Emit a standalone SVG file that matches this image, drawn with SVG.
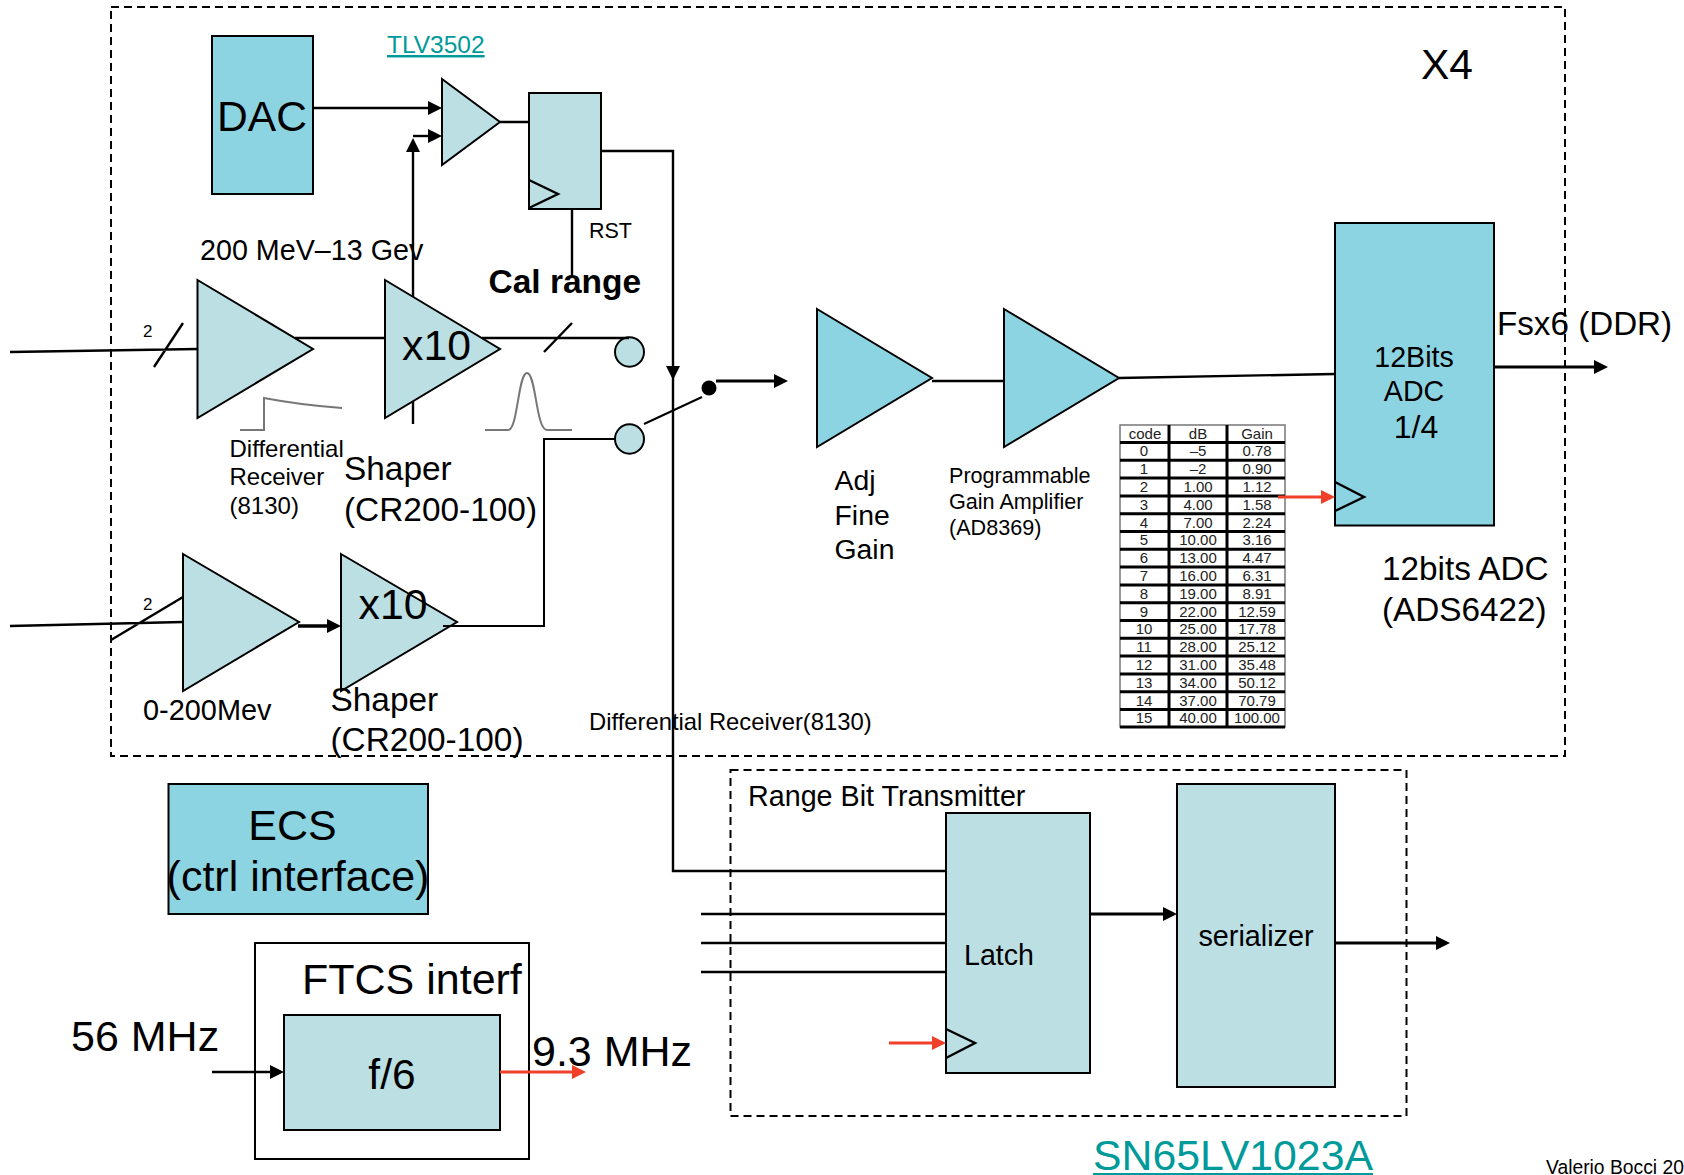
<svg xmlns="http://www.w3.org/2000/svg" width="1684" height="1175" viewBox="0 0 1684 1175">
<style>
text{font-family:"Liberation Sans",Arial,sans-serif;fill:#000}
.lt{fill:#bbdfe3;stroke:#000;stroke-width:2}
.md{fill:#8dd4e3;stroke:#000;stroke-width:2}
.box{fill:none;stroke:#000;stroke-width:2}
.dash{fill:none;stroke:#000;stroke-width:2;stroke-dasharray:8 5}
.w{fill:none;stroke:#000;stroke-width:2.4}
.a{marker-end:url(#ah)}
.r{fill:none;stroke:#f0402a;stroke-width:3;marker-end:url(#rh)}
.p{fill:none;stroke:#777;stroke-width:2}
.link{fill:#009a9a;text-decoration:underline}
.t{font-size:15px;text-anchor:middle;fill:#222}
.tl{stroke:#000;stroke-width:3}
.c{text-anchor:middle}
</style>
<defs>
<marker id="ah" markerUnits="userSpaceOnUse" markerWidth="16" markerHeight="16" refX="8" refY="7" orient="auto"><path d="M0 0L14 7L0 14Z" fill="#000"/></marker>
<marker id="rh" markerUnits="userSpaceOnUse" markerWidth="16" markerHeight="16" refX="8" refY="7" orient="auto"><path d="M0 0L14 7L0 14Z" fill="#f0402a"/></marker>
</defs>
<g id="frame-x4"><rect class="dash" x="111" y="7" width="1454" height="749"/><text x="1421" y="79" font-size="42.5">X4</text></g>
<g id="frame-range"><rect class="dash" x="730.500" y="770" width="676" height="346"/><text x="748" y="806" font-size="28.7">Range Bit Transmitter</text></g>
<g id="gain-table">
<rect x="1120" y="425" width="165" height="302" fill="#fff" stroke="#777" stroke-width="1.5"/>
<path class="tl" d="M1120 442.5H1285M1120 460.3H1285M1120 478.1H1285M1120 495.9H1285M1120 513.7H1285M1120 531.5H1285M1120 549.3H1285M1120 567.1H1285M1120 584.9H1285M1120 602.7H1285M1120 620.5H1285M1120 638.3H1285M1120 656.1H1285M1120 673.9H1285M1120 691.7H1285M1120 709.5H1285M1120 727H1285M1169 425V727M1227 425V727"/>
<text class="t" x="1145" y="439">code</text><text class="t" x="1198" y="439">dB</text><text class="t" x="1257" y="439">Gain</text>
<text class="t" x="1144" y="456.300">0</text><text class="t" x="1198" y="456.300">–5</text><text class="t" x="1257" y="456.300">0.78</text>
<text class="t" x="1144" y="474.100">1</text><text class="t" x="1198" y="474.100">–2</text><text class="t" x="1257" y="474.100">0.90</text>
<text class="t" x="1144" y="491.900">2</text><text class="t" x="1198" y="491.900">1.00</text><text class="t" x="1257" y="491.900">1.12</text>
<text class="t" x="1144" y="509.700">3</text><text class="t" x="1198" y="509.700">4.00</text><text class="t" x="1257" y="509.700">1.58</text>
<text class="t" x="1144" y="527.500">4</text><text class="t" x="1198" y="527.500">7.00</text><text class="t" x="1257" y="527.500">2.24</text>
<text class="t" x="1144" y="545.300">5</text><text class="t" x="1198" y="545.300">10.00</text><text class="t" x="1257" y="545.300">3.16</text>
<text class="t" x="1144" y="563.100">6</text><text class="t" x="1198" y="563.100">13.00</text><text class="t" x="1257" y="563.100">4.47</text>
<text class="t" x="1144" y="580.900">7</text><text class="t" x="1198" y="580.900">16.00</text><text class="t" x="1257" y="580.900">6.31</text>
<text class="t" x="1144" y="598.700">8</text><text class="t" x="1198" y="598.700">19.00</text><text class="t" x="1257" y="598.700">8.91</text>
<text class="t" x="1144" y="616.500">9</text><text class="t" x="1198" y="616.500">22.00</text><text class="t" x="1257" y="616.500">12.59</text>
<text class="t" x="1144" y="634.300">10</text><text class="t" x="1198" y="634.300">25.00</text><text class="t" x="1257" y="634.300">17.78</text>
<text class="t" x="1144" y="652.100">11</text><text class="t" x="1198" y="652.100">28.00</text><text class="t" x="1257" y="652.100">25.12</text>
<text class="t" x="1144" y="669.900">12</text><text class="t" x="1198" y="669.900">31.00</text><text class="t" x="1257" y="669.900">35.48</text>
<text class="t" x="1144" y="687.700">13</text><text class="t" x="1198" y="687.700">34.00</text><text class="t" x="1257" y="687.700">50.12</text>
<text class="t" x="1144" y="705.500">14</text><text class="t" x="1198" y="705.500">37.00</text><text class="t" x="1257" y="705.500">70.79</text>
<text class="t" x="1144" y="723.300">15</text><text class="t" x="1198" y="723.300">40.00</text><text class="t" x="1257" y="723.300">100.00</text>
</g>
<g id="dac"><rect class="md" x="212" y="36" width="101" height="158"/><text x="217" y="131" font-size="42.6">DAC</text></g>
<g id="comparator"><path class="lt" d="M442 79L500 122L442 165Z"/><text class="link" x="387" y="53" font-size="24.5">TLV3502</text></g>
<g id="range-ff"><rect class="lt" x="529" y="93" width="72" height="116"/><path class="w" d="M529 180L558 194L529 208"/><text x="589" y="238" font-size="21.5">RST</text></g>
<g id="rx-high"><path class="lt" d="M197.500 280L313 349L197.500 418Z"/><text x="200" y="260" font-size="28.7">200 MeV–13 Gev</text><text x="143" y="337" font-size="17">2</text><text font-size="24"><tspan x="229.500" y="457">Differential</tspan><tspan x="229.500" y="485">Receiver</tspan><tspan x="229.500" y="514">(8130)</tspan></text><path class="p" d="M240 430H264V398C290 403 315 406 342 408"/></g>
<g id="shaper-high"><path class="lt" d="M385 280L500 349L385 418Z"/><text x="402" y="360" font-size="42.8">x10</text><text font-size="33.4"><tspan x="344" y="480">Shaper</tspan><tspan x="344" y="521">(CR200-100)</tspan></text><text x="488.500" y="293" font-size="33.5" font-weight="bold">Cal range</text><path class="p" d="M485 430H508C518 430 518 373 527 373C536 373 536 430 547 430H572"/></g>
<g id="rx-low"><path class="lt" d="M183 554L299 622L183 691Z"/><text x="143" y="610" font-size="17">2</text><text x="143" y="720" font-size="28.900">0-200Mev</text></g>
<g id="shaper-low"><path class="lt" d="M341 554L457 622L341 691Z"/><text x="358.500" y="619" font-size="42.8">x10</text><text font-size="33.4"><tspan x="330.500" y="711">Shaper</tspan><tspan x="330.500" y="751">(CR200-100)</tspan></text></g>
<g id="switch"><ellipse class="lt" cx="629.500" cy="352" rx="14.500" ry="14.700"/><ellipse class="lt" cx="629.500" cy="439" rx="14.500" ry="14.700"/><circle cx="709" cy="388" r="7.500" fill="#000"/><text x="589" y="730" font-size="23.8">Differential Receiver(8130)</text></g>
<g id="adj-gain"><path class="md" d="M817 309L932 378L817 447Z"/><text font-size="28.400"><tspan x="834.500" y="490">Adj</tspan><tspan x="834.500" y="525">Fine</tspan><tspan x="834.500" y="559">Gain</tspan></text></g>
<g id="pga"><path class="md" d="M1004 309L1119 378L1004 447Z"/><text font-size="21.600"><tspan x="949" y="483">Programmable</tspan><tspan x="949" y="509">Gain Amplifier</tspan><tspan x="949" y="535">(AD8369)</tspan></text></g>
<g id="adc"><rect class="md" x="1335" y="223" width="159" height="302.500"/><path class="w" d="M1335 482L1364 497L1335 511"/><text class="c" font-size="28.600"><tspan x="1414" y="367">12Bits</tspan><tspan x="1414" y="401">ADC</tspan></text><text class="c" x="1416" y="438" font-size="32">1/4</text><text font-size="33.3"><tspan x="1382" y="580">12bits ADC</tspan><tspan x="1382" y="621">(ADS6422)</tspan></text><text x="1497" y="335" font-size="33.2">Fsx6 (DDR)</text></g>
<g id="ecs"><rect class="md" x="168.500" y="784" width="259.500" height="130"/><text class="c" font-size="43"><tspan x="292.500" y="840">ECS</tspan><tspan x="298" y="891">(ctrl interface)</tspan></text></g>
<g id="ftcs"><rect class="box" x="255" y="943" width="274" height="216"/><text x="302" y="994" font-size="43">FTCS interf</text><rect class="lt" x="284" y="1015" width="216" height="115"/><text class="c" x="392" y="1089" font-size="42.500">f/6</text><text x="71" y="1051" font-size="43">56 MHz</text><text x="532" y="1066" font-size="43">9.3 MHz</text></g>
<g id="latch"><rect class="lt" x="946" y="813" width="144" height="260"/><path class="w" d="M946 1029L975 1043L946 1058"/><text x="964" y="965" font-size="28.600">Latch</text></g>
<g id="serializer"><rect class="lt" x="1177" y="784" width="158" height="303"/><text class="c" x="1256" y="946" font-size="28.800">serializer</text></g>
<g id="labels"><text class="link" x="1093" y="1170" font-size="42.800">SN65LV1023A</text><text x="1546" y="1174" font-size="19.300">Valerio Bocci 20</text></g>
<g id="connectors">
<path class="w a" d="M313 108H436"/>
<path class="w a" d="M413 424V401M413 297V144"/>
<path class="w a" d="M413 136H436"/>
<path class="w" d="M500 122H529M572 209V275"/>
<path class="w a" d="M601 151H673V374"/>
<path class="w" d="M673 374V871H946"/>
<path class="w" stroke-width="2" d="M10 352L197.500 349M154 367L183 323M295 338H385M482 338H629M544 352L572 323"/>
<path class="w" stroke-width="2" d="M10 626L183 622M111 640L183 597"/>
<path class="w a" style="stroke-width:3.500" d="M298 626H335"/>
<path class="w" style="stroke-width:2" d="M443 626H544V439H615M644 424L702 397"/>
<path class="w a" style="stroke-width:3" d="M716 381H782"/>
<path class="w" d="M932 381H1004M1119 378L1335 374"/>
<path class="w a" style="stroke-width:3" d="M1494 367H1602"/>
<path class="r" d="M1278 497H1329"/>
<path class="w a" d="M212 1072H278"/>
<path class="r" d="M500 1072H580"/>
<path class="w" d="M701 914H946M701 943H946M701 972H946"/>
<path class="w a" style="stroke-width:3" d="M1090 914H1171"/>
<path class="w a" style="stroke-width:3" d="M1335 943H1444"/>
<path class="r" d="M889 1043H940"/>
</g>
</svg>
